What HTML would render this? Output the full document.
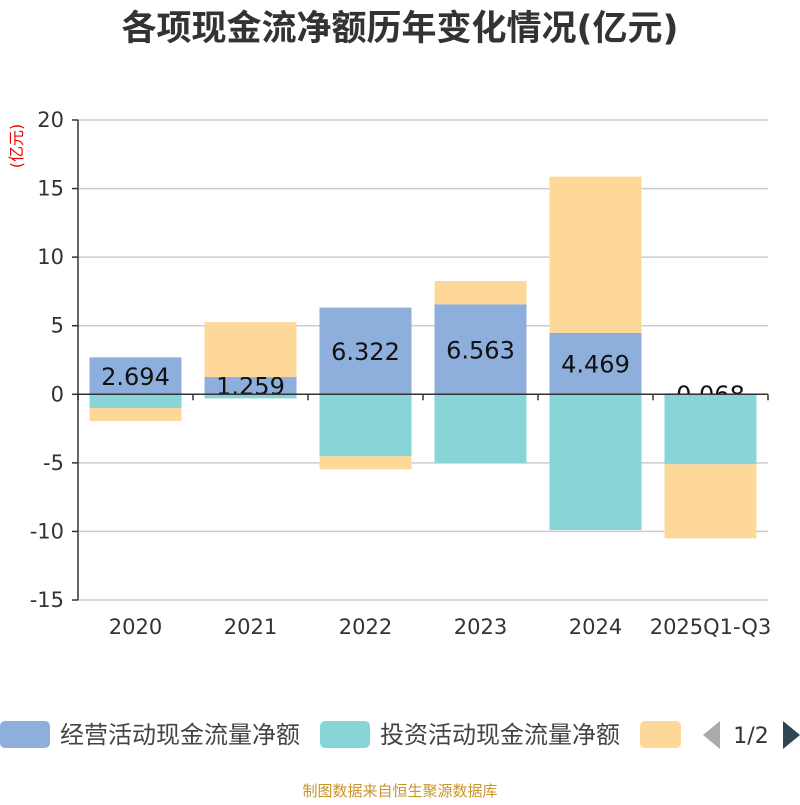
<!DOCTYPE html>
<html><head><meta charset="utf-8"><style>
body{margin:0;background:#fff;width:800px;height:800px;overflow:hidden;font-family:"Liberation Sans","Noto Sans CJK SC",sans-serif;}
</style></head><body>
<svg id="c" width="800" height="800" xmlns="http://www.w3.org/2000/svg" font-family="DejaVu Sans, Noto Sans CJK SC, sans-serif">
<text x="400" y="40" text-anchor="middle" font-size="35" font-weight="bold" fill="#333">各项现金流净额历年变化情况(亿元)</text>
<text transform="translate(22,146) rotate(-90)" text-anchor="middle" font-size="16" fill="#e00">(亿元)</text>
<g id="grid"></g><g id="bars"></g><g id="axes"></g>
<g>
<rect x="0" y="721" width="50" height="27" rx="5" fill="#8eaedb"/>
<text x="60" y="743" font-size="24" fill="#444">经营活动现金流量净额</text>
<rect x="320" y="721" width="50" height="27" rx="5" fill="#88d5d8"/>
<text x="380" y="743" font-size="24" fill="#444">投资活动现金流量净额</text>
<rect x="640" y="721" width="41" height="27" rx="5" fill="#fed898"/>
<polygon points="720,721 720,749 703,735" fill="#aaa"/>
<text x="751" y="743" text-anchor="middle" font-size="22" fill="#333">1/2</text>
<polygon points="783,721 783,749 800,735" fill="#2f4554"/>
</g>
<text x="400" y="796" text-anchor="middle" font-size="15" fill="#c8952a">制图数据来自恒生聚源数据库</text>
</svg>
<script>
const categories=["2020","2021","2022","2023","2024","2025Q1-Q3"];
const operating=[2.694,1.259,6.322,6.563,4.469,0.068];
const investing=[-1.0,-0.3,-4.52,-5.03,-9.9,-5.1];
const financing=[-0.95,4.0,-0.95,1.7,11.4,-5.4];
const yTicks=[20,15,10,5,0,-5,-10,-15];
const NS="http://www.w3.org/2000/svg";
const x0=78,x1=768,yTop=120,yBot=600,yMax=20,yMin=-15;
const bw=(x1-x0)/categories.length;
function y(v){return yTop+(yMax-v)/(yMax-yMin)*(yBot-yTop);}
function xc(i){return x0+bw*(i+0.5);}
function mk(tag,attrs,parent){const e=document.createElementNS(NS,tag);for(const k in attrs)e.setAttribute(k,attrs[k]);document.getElementById(parent).appendChild(e);return e;}
yTicks.forEach(t=>{
  const l=mk('line',{x1:x0,x2:x1,y1:y(t),y2:y(t),stroke:'#ccc','stroke-width':1.5},'grid');
  
  
  const tk=mk('line',{x1:x0-6,x2:x0,y1:y(t),y2:y(t),stroke:'#333','stroke-width':1.5},'axes');
  
  
  const tx=mk('text',{x:x0-14,y:y(t)+7,'text-anchor':'end','font-size':21,fill:'#333'},'axes');
  tx.textContent=t;
  
  
});
const ya=mk('line',{x1:x0,x2:x0,y1:yTop,y2:yBot,stroke:'#333','stroke-width':1.5},'axes');


const xa=mk('line',{x1:x0,x2:x1,y1:y(0),y2:y(0),stroke:'#333','stroke-width':1.5},'axes');


for(let i=0;i<=categories.length;i++){
  const t=mk('line',{x1:x0+bw*i,x2:x0+bw*i,y1:y(0),y2:y(0)+6,stroke:'#333','stroke-width':1.5},'axes');
  
  
}
categories.forEach((c,i)=>{
  const t=mk('text',{x:xc(i),y:634,'text-anchor':'middle','font-size':21,fill:'#333'},'axes');
  t.textContent=c;
  
  
  const w=92,bx=xc(i)-w/2;
  let pos=0,neg=0;
  function seg(v,color,name){
    let a,b;
    if(v>=0){a=pos;b=pos+v;pos=b;}else{a=neg;b=neg+v;neg=b;}
    const r=mk('rect',{x:bx,width:w,y:Math.min(y(a),y(b)),height:Math.abs(y(a)-y(b)),fill:color},'bars');
    
    
    return [a,b];
  }
  const [a,b]=seg(operating[i],'#8eaedb','bar-operating');
  const lb=mk('text',{x:xc(i),y:(y(a)+y(b))/2+9,'text-anchor':'middle','font-size':24,fill:'#111'},'bars');
  lb.textContent=operating[i].toFixed(3);
  
  
  seg(investing[i],'#88d5d8','bar-investing');
  seg(financing[i],'#fed898','bar-financing');
});
</script>
</body></html>
